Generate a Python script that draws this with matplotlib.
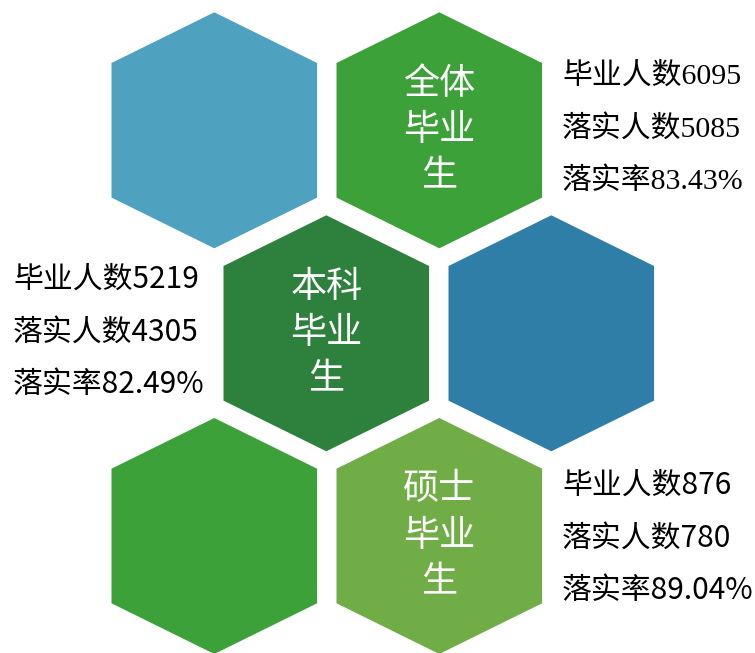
import matplotlib.pyplot as plt
from matplotlib.patches import Polygon

# data
groups = ['全体毕业生', '本科毕业生', '硕士毕业生']
hex_labels = [['全体', '毕业', '生'], ['本科', '毕业', '生'], ['硕士', '毕业', '生']]
grads = [6095, 5219, 876]
placed = [5085, 4305, 780]
rates = [83.43, 82.49, 89.04]

# hexagon layout (pixels, y downwards)
hw, ht, hs = 102.8, 118, 67.3
hexes = [
    (214.3, 130.3, '#4FA1C0', None),
    (439.3, 130.3, '#3DA13A', 0),
    (326.3, 333.3, '#2E813D', 1),
    (551.3, 333.3, '#2F7EA8', None),
    (214.3, 536.0, '#3DA13A', None),
    (439.3, 536.0, '#70AD47', 2),
]

fig = plt.figure(figsize=(7.55, 6.53), dpi=100)
ax = fig.add_axes([0, 0, 1, 1])
ax.set_xlim(0, 755)
ax.set_ylim(653, 0)
ax.axis('off')

cjk = ['Noto Sans CJK SC', 'DejaVu Sans']
for cx, cy, col, gi in hexes:
    pts = [(cx, cy - ht), (cx + hw, cy - hs), (cx + hw, cy + hs),
           (cx, cy + ht), (cx - hw, cy + hs), (cx - hw, cy - hs)]
    ax.add_patch(Polygon(pts, closed=True, facecolor=col, edgecolor='none'))
    if gi is not None:
        for k, line in enumerate(hex_labels[gi]):
            ax.text(cx, cy + (k - 1) * 46.5, line, color='white', fontsize=26,
                    ha='center', va='center', family=cjk, fontweight='light')

# side texts: (group index, x, center y, fonts)
sides = [
    (0, 562, 129, ['Liberation Serif', 'Noto Sans CJK SC']),
    (1, 13, 332, cjk),
    (2, 562, 538, cjk),
]
for gi, x, cy, fam in sides:
    lines = ['毕业人数%d' % grads[gi], '落实人数%d' % placed[gi], '落实率%.2f%%' % rates[gi]]
    for k, line in enumerate(lines):
        ax.text(x, cy + (k - 1) * 52.5, line, color='black', fontsize=21.5,
                ha='left', va='center', family=fam)

plt.savefig('out.png', dpi=100)
